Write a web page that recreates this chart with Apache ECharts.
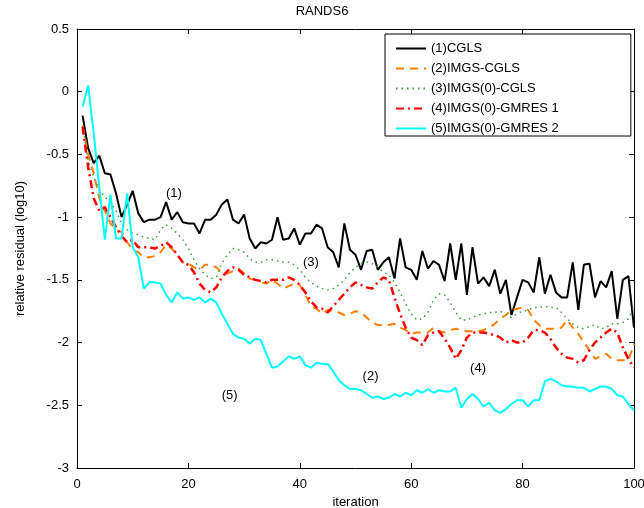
<!DOCTYPE html>
<html>
<head>
<meta charset="utf-8">
<script src="https://cdn.jsdelivr.net/npm/echarts@6/dist/echarts.min.js"></script>
<style>
  html, body { margin: 0; padding: 0; background: #fff; }
  #chart { width: 644px; height: 508px; }
</style>
</head>
<body>
<div id="chart"></div>
<script>
// residual curves, one value per iteration 1..100 (log10)
const cgls = [
  -0.19, -0.45, -0.57, -0.51, -0.65, -0.66, -0.81, -1.00, -0.90, -0.79,
  -0.97, -1.04, -1.02, -1.02, -1.00, -0.88, -1.02, -0.96, -1.04, -1.05,
  -1.05, -1.13, -1.02, -1.02, -0.98, -0.90, -0.86, -1.02, -1.05, -0.98,
  -1.17, -1.25, -1.20, -1.21, -1.18, -1.00, -1.18, -1.17, -1.09, -1.22,
  -1.13, -1.13, -1.06, -1.09, -1.24, -1.28, -1.40, -1.05, -1.26, -1.30,
  -1.42, -1.27, -1.26, -1.42, -1.36, -1.32, -1.49, -1.17, -1.40, -1.42,
  -1.50, -1.27, -1.41, -1.35, -1.38, -1.51, -1.21, -1.50, -1.21, -1.62,
  -1.24, -1.53, -1.48, -1.55, -1.42, -1.61, -1.50, -1.78, -1.64, -1.50,
  -1.52, -1.60, -1.32, -1.61, -1.46, -1.60, -1.64, -1.64, -1.36, -1.74,
  -1.38, -1.37, -1.64, -1.51, -1.56, -1.43, -1.81, -1.50, -1.47, -1.88
];
const imgsCgls = [
  -0.27, -0.50, -0.65, -0.85, -0.95, -1.05, -1.10, -1.12, -1.20, -1.26,
  -1.28, -1.32, -1.32, -1.31, -1.28, -1.22, -1.25, -1.30, -1.36, -1.37,
  -1.40, -1.42, -1.38, -1.38, -1.40, -1.44, -1.45, -1.43, -1.41, -1.45,
  -1.49, -1.50, -1.52, -1.53, -1.50, -1.53, -1.57, -1.55, -1.53, -1.54,
  -1.62, -1.71, -1.73, -1.77, -1.74, -1.75, -1.76, -1.78, -1.77, -1.75,
  -1.76, -1.80, -1.84, -1.86, -1.86, -1.86, -1.85, -1.88, -1.90, -1.93,
  -1.92, -1.92, -1.92, -1.88, -1.91, -1.92, -1.90, -1.89, -1.90, -1.91,
  -1.91, -1.91, -1.90, -1.88, -1.85, -1.81, -1.78, -1.74, -1.73, -1.72,
  -1.74, -1.82, -1.86, -1.89, -1.89, -1.89, -1.88, -1.82, -1.88, -1.93,
  -2.00, -2.06, -2.13, -2.11, -2.09, -2.13, -2.14, -2.14, -2.14, -2.01
];
const imgs0Cgls = [
  -0.27, -0.55, -0.68, -0.78, -0.84, -0.88, -0.95, -1.05, -1.10, -1.13,
  -1.14, -1.16, -1.17, -1.18, -1.10, -1.06, -1.09, -1.13, -1.18, -1.25,
  -1.34, -1.41, -1.46, -1.49, -1.48, -1.37, -1.30, -1.25, -1.26, -1.28,
  -1.33, -1.36, -1.36, -1.34, -1.34, -1.35, -1.36, -1.36, -1.38, -1.42,
  -1.48, -1.52, -1.55, -1.57, -1.58, -1.57, -1.54, -1.50, -1.44, -1.40,
  -1.37, -1.36, -1.37, -1.40, -1.44, -1.46, -1.52, -1.60, -1.69, -1.77,
  -1.82, -1.81, -1.76, -1.66, -1.61, -1.62, -1.68, -1.76, -1.82, -1.82,
  -1.80, -1.78, -1.77, -1.76, -1.76, -1.75, -1.78, -1.80, -1.77, -1.75,
  -1.74, -1.72, -1.72, -1.71, -1.72, -1.72, -1.76, -1.81, -1.85, -1.88,
  -1.89, -1.87, -1.86, -1.89, -1.88, -1.85, -1.85, -1.84, -1.81, -1.72
];
const gmres1 = [
  -0.28, -0.60, -0.85, -0.95, -0.92, -1.00, -1.08, -1.15, -1.20, -1.18,
  -1.24, -1.24, -1.24, -1.25, -1.23, -1.20, -1.24, -1.30, -1.36, -1.38,
  -1.44, -1.53, -1.58, -1.60, -1.56, -1.48, -1.43, -1.40, -1.42, -1.46,
  -1.48, -1.50, -1.51, -1.52, -1.50, -1.50, -1.50, -1.48, -1.50, -1.54,
  -1.60, -1.67, -1.72, -1.73, -1.76, -1.71, -1.66, -1.61, -1.56, -1.52,
  -1.54, -1.56, -1.57, -1.52, -1.48, -1.50, -1.64, -1.77, -1.88, -1.96,
  -1.98, -2.02, -1.94, -1.92, -1.91, -1.97, -2.04, -2.13, -2.06, -1.96,
  -1.92, -1.92, -1.92, -1.93, -1.94, -1.96, -2.00, -1.98, -2.00, -2.00,
  -1.96, -1.90, -1.90, -1.92, -1.97, -2.04, -2.09, -2.12, -2.13, -2.16,
  -2.14, -2.06, -2.00, -1.96, -1.92, -1.89, -1.92, -2.04, -2.13, -2.20
];
const gmres2 = [
  -0.12, 0.05, -0.33, -0.76, -1.18, -0.82, -1.17, -1.17, -0.81, -1.24,
  -1.32, -1.57, -1.52, -1.52, -1.53, -1.62, -1.68, -1.60, -1.65, -1.64,
  -1.66, -1.64, -1.68, -1.65, -1.68, -1.77, -1.85, -1.93, -1.96, -1.97,
  -2.01, -1.97, -1.98, -2.09, -2.20, -2.19, -2.15, -2.11, -2.13, -2.11,
  -2.18, -2.20, -2.16, -2.17, -2.17, -2.23, -2.30, -2.34, -2.37, -2.37,
  -2.38, -2.41, -2.44, -2.43, -2.45, -2.44, -2.41, -2.43, -2.40, -2.42,
  -2.38, -2.40, -2.37, -2.40, -2.38, -2.39, -2.39, -2.36, -2.52, -2.45,
  -2.41, -2.45, -2.51, -2.48, -2.54, -2.56, -2.53, -2.49, -2.46, -2.46,
  -2.51, -2.46, -2.46, -2.31, -2.29, -2.31, -2.34, -2.35, -2.35, -2.36,
  -2.36, -2.39, -2.37, -2.35, -2.35, -2.37, -2.42, -2.43, -2.49, -2.54
];

const seriesNames = ['(1)CGLS', '(2)IMGS-CGLS', '(3)IMGS(0)-CGLS', '(4)IMGS(0)-GMRES 1', '(5)IMGS(0)-GMRES 2'];

// curve labels placed in data coordinates
const annotTexts = ['(1)', '(3)', '(2)', '(5)', '(4)'];
const annotX = [17.4, 42, 52.7, 27.4, 72];
const annotY = [-0.81, -1.36, -2.27, -2.42, -2.21];

const FONT = 'Liberation Sans, Arial, sans-serif';
const pairs = arr => arr.map((v, i) => [i + 1, v]);

const chart = echarts.init(document.getElementById('chart'));

const axisCommon = {
  axisLine: { show: true, onZero: false, lineStyle: { color: '#000', width: 1 } },
  axisTick: { show: true, inside: true, length: 5, lineStyle: { color: '#000' } },
  splitLine: { show: false },
  axisLabel: { color: '#000', fontFamily: FONT, fontSize: 13 }
};

function lineSeries(name, data, color, width, type) {
  return {
    name: name,
    type: 'line',
    data: pairs(data),
    symbol: 'none',
    showSymbol: false,
    animation: false,
    lineStyle: { color: color, width: width, type: type },
    itemStyle: { color: color },
    z: 3
  };
}

chart.setOption({
  animation: false,
  backgroundColor: '#fff',
  title: {
    text: 'RANDS6',
    left: 'center',
    top: 0,
    textStyle: { fontFamily: FONT, fontSize: 13, fontWeight: 'normal', color: '#000' }
  },
  grid: { left: 77, right: 10, top: 29, bottom: 40, containLabel: false, outerBoundsMode: 'none' },
  xAxis: [
    Object.assign({}, axisCommon, {
      type: 'value', min: 0, max: 100, interval: 20,
      name: 'iteration', nameLocation: 'middle', nameGap: 21,
      nameTextStyle: { fontFamily: FONT, fontSize: 13, color: '#000' },
      axisLabel: Object.assign({}, axisCommon.axisLabel, { margin: 10 })
    }),
    Object.assign({}, axisCommon, {
      type: 'value', min: 0, max: 100, interval: 20, position: 'top',
      axisLabel: { show: false }
    })
  ],
  yAxis: [
    Object.assign({}, axisCommon, {
      type: 'value', min: -3, max: 0.5, interval: 0.5,
      name: 'relative residual (log10)', nameLocation: 'middle', nameGap: 50,
      nameTextStyle: { fontFamily: FONT, fontSize: 13, color: '#000' },
      axisLabel: Object.assign({}, axisCommon.axisLabel, { margin: 8 })
    }),
    Object.assign({}, axisCommon, {
      type: 'value', min: -3, max: 0.5, interval: 0.5, position: 'right',
      axisLabel: { show: false }
    })
  ],
  legend: {
    data: seriesNames,
    orient: 'vertical',
    left: 385,
    top: 34,
    itemWidth: 30,
    itemHeight: 14,
    itemGap: 7,
    padding: [8, 72, 1, 10],
    borderColor: '#000',
    borderWidth: 1,
    borderRadius: 0,
    backgroundColor: '#fff',
    itemStyle: { opacity: 0 },
    textStyle: { fontFamily: FONT, fontSize: 13, color: '#000' }
  },
  series: [
    lineSeries(seriesNames[0], cgls, '#000000', 2, 'solid'),
    lineSeries(seriesNames[1], imgsCgls, '#ff8000', 2, [8, 6]),
    lineSeries(seriesNames[2], imgs0Cgls, '#3c9f3c', 1.5, [1.5, 4]),
    lineSeries(seriesNames[3], gmres1, '#ff0000', 2.5, [8, 4, 2, 4]),
    lineSeries(seriesNames[4], gmres2, '#00ffff', 2, 'solid')
  ]
});

// text labels next to the curves
const labels = annotTexts.map((t, i) => {
  const p = chart.convertToPixel({ xAxisIndex: 0, yAxisIndex: 0 }, [annotX[i], annotY[i]]);
  return {
    type: 'text',
    x: p[0],
    y: p[1],
    style: {
      text: t,
      fill: '#000',
      font: '13px ' + FONT,
      textAlign: 'center',
      textVerticalAlign: 'middle'
    },
    z: 10
  };
});
chart.setOption({ graphic: labels });
</script>
</body>
</html>
